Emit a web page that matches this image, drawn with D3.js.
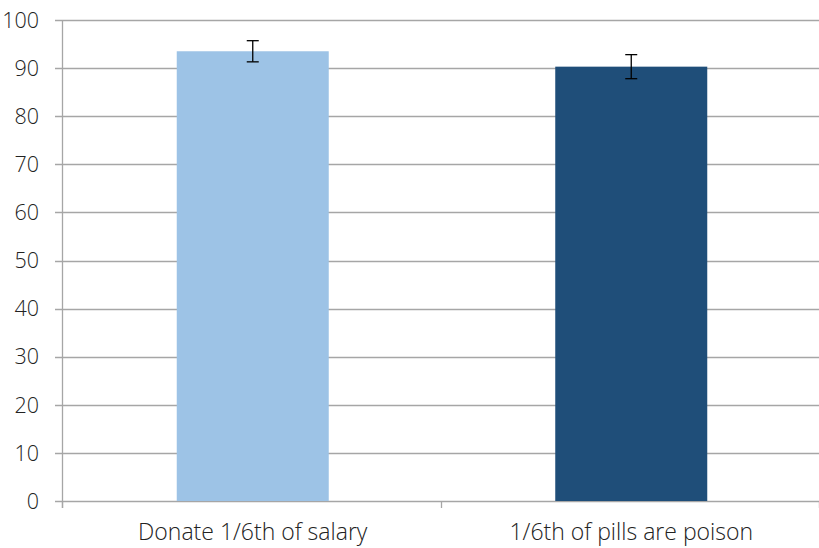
<!DOCTYPE html>
<html>
<head>
<meta charset="utf-8">
<script src="https://cdn.jsdelivr.net/npm/d3@7"></script>
<style>
  html, body { margin: 0; background: #fff; overflow: hidden; }
  svg { display: block; }
  text { font-family: "Open Sans", sans-serif; font-weight: 300; fill: #222; }
</style>
</head>
<body>
<div id="chart"></div>
<script>
// data
var categories = ["Donate 1/6th of salary", "1/6th of pills are poison"];
var values = [93.5, 90.3];
var errors = [2.2, 2.5];
var colors = ["#9dc3e6", "#1f4e79"];
var yTicks = [0, 10, 20, 30, 40, 50, 60, 70, 80, 90, 100];

var margin = {top: 20, right: 0, bottom: 47, left: 62},
    width = 819 - margin.left - margin.right,
    height = 548 - margin.top - margin.bottom;

var svg = d3.select("#chart")
  .append("svg")
    .attr("width", width + margin.left + margin.right)
    .attr("height", height + margin.top + margin.bottom)
  .append("g")
    .attr("transform", "translate(" + margin.left + "," + margin.top + ")");

var x = d3.scaleBand()
  .domain(categories)
  .range([0, width])
  .paddingInner(0)
  .paddingOuter(0);

var y = d3.scaleLinear()
  .domain([0, 100])
  .range([height, 0]);

// gridlines
svg.append("g")
  .selectAll("line")
  .data(yTicks)
  .enter()
  .append("line")
    .attr("x1", -7)
    .attr("x2", width)
    .attr("y1", function(d) { return Math.round(y(d)) + 0.5; })
    .attr("y2", function(d) { return Math.round(y(d)) + 0.5; })
    .style("stroke", "#a6a6a6")
    .style("stroke-width", 1.3);

// y axis line
svg.append("line")
  .attr("x1", 0.5).attr("x2", 0.5)
  .attr("y1", y(100)).attr("y2", height + 7)
  .style("stroke", "#a6a6a6")
  .style("stroke-width", 1.3);

// y tick labels
svg.append("g")
  .selectAll("text")
  .data(yTicks)
  .enter()
  .append("text")
    .attr("x", -23)
    .attr("y", function(d) { return y(d); })
    .attr("dy", "0.36em")
    .attr("text-anchor", "end")
    .style("font-size", "21.5px")
    .text(function(d) { return d; });

// x category ticks
var bounds = [0, x.bandwidth(), width];
svg.append("g")
  .selectAll("line")
  .data(bounds)
  .enter()
  .append("line")
    .attr("x1", function(d) { return Math.round(d) + 0.5; })
    .attr("x2", function(d) { return Math.round(d) + 0.5; })
    .attr("y1", height)
    .attr("y2", height + 7)
    .style("stroke", "#a6a6a6")
    .style("stroke-width", 1.3);

var barW = 152;

// bars
svg.append("g")
  .selectAll("rect")
  .data(values)
  .enter()
  .append("rect")
    .attr("x", function(d, i) { return x(categories[i]) + x.bandwidth() / 2 - barW / 2 + 1.5; })
    .attr("y", function(d) { return y(d); })
    .attr("width", barW)
    .attr("height", function(d) { return height - y(d); })
    .style("fill", function(d, i) { return colors[i]; });

// error bars
var eb = svg.append("g")
  .selectAll("g")
  .data(values)
  .enter()
  .append("g")
    .attr("transform", function(d, i) { return "translate(" + (x(categories[i]) + x.bandwidth() / 2 + 1.5) + ",0)"; });

eb.append("line")
  .attr("y1", function(d, i) { return y(d + errors[i]); })
  .attr("y2", function(d, i) { return y(d - errors[i]); })
  .style("stroke", "#000").style("stroke-width", 1.3);
eb.append("line")
  .attr("x1", -6).attr("x2", 6)
  .attr("y1", function(d, i) { return y(d + errors[i]); })
  .attr("y2", function(d, i) { return y(d + errors[i]); })
  .style("stroke", "#000").style("stroke-width", 1.3);
eb.append("line")
  .attr("x1", -6).attr("x2", 6)
  .attr("y1", function(d, i) { return y(d - errors[i]); })
  .attr("y2", function(d, i) { return y(d - errors[i]); })
  .style("stroke", "#000").style("stroke-width", 1.3);

// category labels
svg.append("g")
  .selectAll("text")
  .data(categories)
  .enter()
  .append("text")
    .attr("x", function(d) { return x(d) + x.bandwidth() / 2 + 1.5; })
    .attr("y", height + 39)
    .attr("text-anchor", "middle")
    .style("font-size", "23px")
    .text(function(d) { return d; });
</script>
</body>
</html>
